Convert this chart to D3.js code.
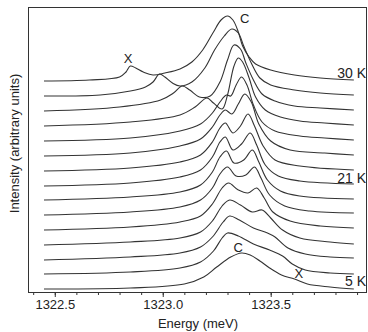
<!DOCTYPE html>
<html>
<head>
<meta charset="utf-8">
<script src="https://cdn.jsdelivr.net/npm/d3@7"></script>
<style>
  body { margin: 0; background: #fff; }
  svg { display: block; font-family: "Liberation Sans", Arial, sans-serif; }
</style>
</head>
<body>
<div id="chart"></div>
<script>
// ===== DATA =====
// temperatures, top trace first
const temps = [30, 29, 28, 27, 26, 25, 23, 21, 19, 17, 15, 13, 10, 7, 5];
// vertical offset of each trace (arbitrary units)
const offsets = [211, 196, 181, 166, 151, 136, 121, 106, 92, 77, 62, 47, 32, 18, 3];
const labelledTemps = [30, 21, 5];

// spectra: [energy (meV), intensity (a.u.)]
const spec30 = [[1322.45,0],[1322.66,1],[1322.80,4],[1322.83,9],[1322.85,15],[1322.875,13],[1322.91,9],[1322.955,6],[1323.01,8],[1323.08,12],[1323.135,19],[1323.185,31],[1323.235,49],[1323.27,61],[1323.30,65],[1323.325,61],[1323.35,49],[1323.37,35],[1323.40,24],[1323.43,17],[1323.50,11],[1323.61,6],[1323.73,3],[1323.885,1]];
const spec29 = [[1322.45,0],[1322.71,1],[1322.85,5],[1322.92,9],[1322.955,14],[1322.985,22],[1323.01,19],[1323.045,13],[1323.08,10],[1323.135,14],[1323.195,28],[1323.24,46],[1323.285,60],[1323.32,67],[1323.35,63],[1323.375,50],[1323.41,33],[1323.45,18],[1323.50,11],[1323.61,6],[1323.73,3],[1323.885,1]];
const spec28 = [[1322.45,0],[1322.80,4],[1322.99,11],[1323.05,18],[1323.09,25],[1323.125,21],[1323.17,14],[1323.22,15],[1323.265,29],[1323.30,51],[1323.33,66],[1323.36,62],[1323.385,48],[1323.42,31],[1323.46,17],[1323.52,10],[1323.61,5],[1323.73,3],[1323.885,1]];
const spec27 = [[1322.45,0],[1322.85,4],[1323.08,11],[1323.15,19],[1323.205,28],[1323.235,23],[1323.275,17],[1323.30,31],[1323.33,60],[1323.35,68],[1323.37,64],[1323.40,48],[1323.43,29],[1323.475,16],[1323.545,9],[1323.635,5],[1323.75,3],[1323.885,1]];
const spec26 = [[1322.45,0],[1322.85,3],[1323.08,10],[1323.175,17],[1323.23,28],[1323.265,39],[1323.295,46],[1323.315,45],[1323.34,56],[1323.365,64],[1323.39,56],[1323.42,36],[1323.46,19],[1323.52,10],[1323.635,5],[1323.75,3],[1323.885,1]];
const spec25 = [[1322.45,0],[1322.85,3],[1323.08,10],[1323.175,17],[1323.23,29],[1323.265,41],[1323.29,46],[1323.32,42],[1323.35,52],[1323.38,62],[1323.41,54],[1323.445,32],[1323.50,15],[1323.59,6],[1323.75,3],[1323.885,1]];
const spec23 = [[1322.45,0],[1322.85,3],[1323.08,9],[1323.175,16],[1323.23,29],[1323.265,43],[1323.29,48],[1323.325,38],[1323.36,45],[1323.395,57],[1323.425,45],[1323.465,25],[1323.52,11],[1323.635,5],[1323.885,1]];
const spec21 = [[1322.45,0],[1322.85,3],[1323.08,9],[1323.175,16],[1323.23,29],[1323.265,44],[1323.29,49],[1323.325,36],[1323.365,42],[1323.405,53],[1323.435,41],[1323.475,21],[1323.535,10],[1323.635,5],[1323.885,2]];
const spec19 = [[1322.45,0],[1322.85,3],[1323.08,8],[1323.175,15],[1323.23,28],[1323.265,43],[1323.295,49],[1323.33,37],[1323.375,40],[1323.415,50],[1323.445,38],[1323.485,20],[1323.545,9],[1323.635,4],[1323.885,1]];
const spec17 = [[1322.45,0],[1322.85,3],[1323.08,8],[1323.175,15],[1323.23,27],[1323.265,41],[1323.30,48],[1323.34,39],[1323.385,40],[1323.425,48],[1323.455,37],[1323.495,20],[1323.565,9],[1323.68,4],[1323.885,2]];
const spec15 = [[1322.45,0],[1322.85,3],[1323.08,8],[1323.175,14],[1323.23,26],[1323.275,42],[1323.305,47],[1323.35,40],[1323.395,37],[1323.435,42],[1323.47,32],[1323.51,18],[1323.59,9],[1323.73,4],[1323.885,2]];
const spec13 = [[1322.45,0],[1322.85,3],[1323.08,7],[1323.175,13],[1323.23,24],[1323.275,39],[1323.31,45],[1323.36,40],[1323.415,33],[1323.46,35],[1323.50,27],[1323.555,15],[1323.635,7],[1323.775,3],[1323.885,1]];
const spec10 = [[1322.45,0],[1322.85,3],[1323.08,7],[1323.175,13],[1323.23,23],[1323.28,38],[1323.31,44],[1323.355,40],[1323.42,32],[1323.485,27],[1323.52,23],[1323.58,12],[1323.66,6],[1323.775,3],[1323.885,2]];
const spec7 = [[1322.45,0],[1322.85,2],[1323.08,6],[1323.175,12],[1323.235,23],[1323.275,36],[1323.30,41],[1323.35,38],[1323.42,30],[1323.495,24],[1323.555,18],[1323.60,10],[1323.66,4],[1323.775,1],[1323.885,0]];
const spec5 = [[1322.45,0],[1322.85,1],[1323.10,5],[1323.19,12],[1323.25,22],[1323.315,32],[1323.365,36],[1323.405,34],[1323.45,28],[1323.495,21],[1323.55,14],[1323.61,10],[1323.67,5],[1323.775,2],[1323.885,0]];
const spectra = [spec30, spec29, spec28, spec27, spec26, spec25, spec23, spec21, spec19, spec17, spec15, spec13, spec10, spec7, spec5];

const xTicks = [1322.5, 1323.0, 1323.5];
const xMinorTicks = d3.range(1322.4, 1323.95, 0.1);

// peak annotations: [text, energy, intensity]
const peakLabels = [["X", 1322.84, 229], ["C", 1323.38, 269], ["C", 1323.35, 40], ["X", 1323.63, 14]];

// ===== CHART =====
const width = 368, height = 332;
const margin = { top: 7, right: 1, bottom: 40, left: 28 };

const svg = d3.select('#chart').append('svg')
    .attr('width', width)
    .attr('height', height);

const x = d3.scaleLinear()
    .domain([1322.376, 1323.946])
    .range([margin.left, width - margin.right]);

const y = d3.scaleLinear()
    .domain([0, 285])
    .range([height - margin.bottom, margin.top]);

const ink = '#333';
const textInk = '#222';

svg.append('defs').append('clipPath').attr('id', 'plot')
    .append('rect')
    .attr('x', margin.left).attr('y', margin.top)
    .attr('width', width - margin.left - margin.right)
    .attr('height', height - margin.top - margin.bottom);

// traces
const line = d3.line()
    .x(d => x(d[0]))
    .y(d => y(d[1]))
    .curve(d3.curveCatmullRom.alpha(0.5));

svg.append('g')
    .attr('clip-path', 'url(#plot)')
    .selectAll('path')
    .data(spectra)
    .enter().append('path')
    .attr('fill', 'none')
    .attr('stroke', ink)
    .attr('stroke-width', 1.1)
    .attr('stroke-linejoin', 'round')
    .attr('d', (d, i) => line(d.map(p => [p[0], p[1] + offsets[i]])));

// frame
svg.append('rect')
    .attr('x', margin.left + 0.5)
    .attr('y', margin.top + 0.5)
    .attr('width', width - margin.left - margin.right - 1)
    .attr('height', height - margin.top - margin.bottom)
    .attr('fill', 'none')
    .attr('stroke', ink)
    .attr('stroke-width', 1);

// x axis: minor ticks, then major ticks with labels
const xAxisMinor = d3.axisBottom(x).tickValues(xMinorTicks).tickSize(3).tickFormat('');
const xAxis = d3.axisBottom(x).tickValues(xTicks).tickSize(5).tickPadding(3).tickFormat(d3.format('.1f'));

svg.append('g')
    .attr('transform', `translate(0,${height - margin.bottom})`)
    .call(xAxisMinor)
    .call(g => g.select('.domain').remove())
    .call(g => g.selectAll('line').attr('stroke', ink));

svg.append('g')
    .attr('transform', `translate(0,${height - margin.bottom})`)
    .call(xAxis)
    .call(g => g.select('.domain').remove())
    .call(g => g.selectAll('line').attr('stroke', ink))
    .call(g => g.selectAll('text')
        .attr('fill', textInk)
        .attr('font-size', '13px')
        .attr('font-family', '"Liberation Sans", Arial, sans-serif'));

// axis titles
svg.append('text')
    .attr('x', (margin.left + width) / 2)
    .attr('y', 328)
    .attr('text-anchor', 'middle')
    .attr('font-size', '13px')
    .attr('fill', textInk)
    .text('Energy (meV)');

svg.append('text')
    .attr('transform', `translate(19,${(margin.top + height - margin.bottom) / 2 - 6}) rotate(-90)`)
    .attr('text-anchor', 'middle')
    .attr('font-size', '13px')
    .attr('fill', textInk)
    .text('Intensity (arbitrary units)');

// temperature labels at right end of traces
svg.append('g')
    .selectAll('text')
    .data(labelledTemps)
    .enter().append('text')
    .attr('x', width - 2)
    .attr('y', t => y(offsets[temps.indexOf(t)]) - 3)
    .attr('text-anchor', 'end')
    .attr('font-size', '14px')
    .attr('fill', textInk)
    .text(t => `${t} K`);

// peak labels
svg.append('g')
    .selectAll('text')
    .data(peakLabels)
    .enter().append('text')
    .attr('x', d => x(d[1]))
    .attr('y', d => y(d[2]))
    .attr('text-anchor', 'middle')
    .attr('font-size', '13px')
    .attr('fill', textInk)
    .text(d => d[0]);
</script>
</body>
</html>
